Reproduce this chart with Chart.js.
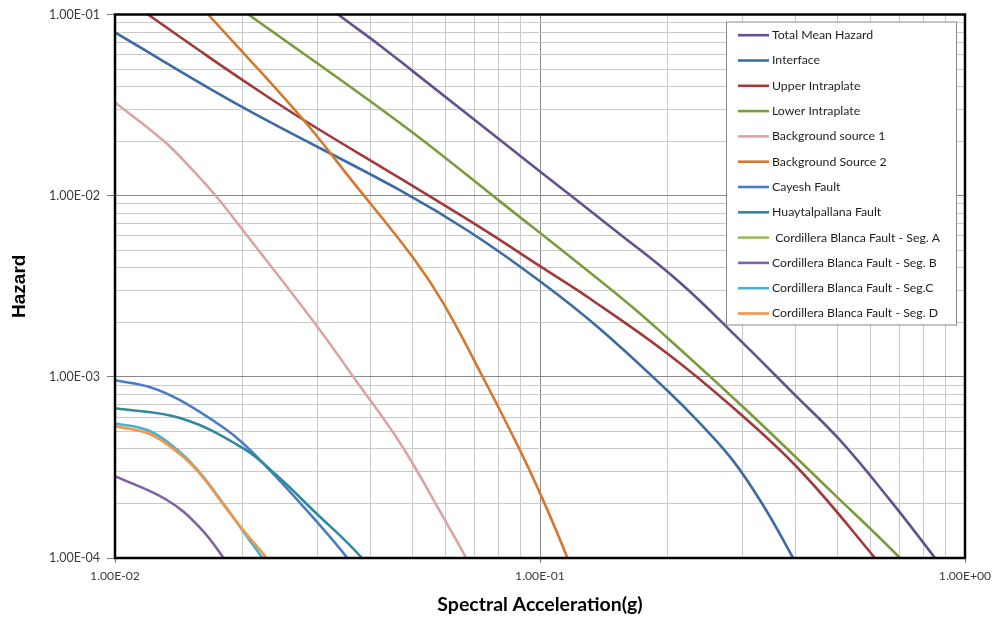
<!DOCTYPE html>
<html>
<head>
<meta charset="utf-8">
<script src="https://cdn.jsdelivr.net/npm/chart.js@4.4.1/dist/chart.umd.min.js"></script>
<style>
  html, body { margin: 0; padding: 0; background: #ffffff; }
  #c { display: block; }
</style>
</head>
<body>
<canvas id="c" width="996" height="617"></canvas>
<script>
// Seismic hazard curves: annual exceedance rate against spectral acceleration (g)

const seriesNames = [
  'Total Mean Hazard', 'Interface', 'Upper Intraplate', 'Lower Intraplate',
  'Background source 1', 'Background Source 2', 'Cayesh Fault', 'Huaytalpallana Fault',
  ' Cordillera Blanca Fault - Seg. A', 'Cordillera Blanca Fault - Seg. B',
  'Cordillera Blanca Fault - Seg.C', 'Cordillera Blanca Fault - Seg. D'
];
const seriesColors = [
  '#65508f', '#3c6ba6', '#a2393b', '#7c9b3c',
  '#dba4a2', '#d4782d', '#4a7dc5', '#2f8b9c',
  '#9bbb59', '#7f62a6', '#46b2d0', '#f5954a'
];

// Spectral acceleration (g) and hazard per source
const totalSa   = [0.025, 0.0335, 0.042, 0.05, 0.1, 0.15, 0.213, 0.296, 0.394, 0.508, 0.667, 0.85, 0.95];
const totalHaz  = [0.17, 0.1, 0.0675, 0.049, 0.0136, 0.00645, 0.00333, 0.00159, 0.000813, 0.000447, 0.000208, 0.0001, 0.00007];

const interfaceSa  = [0.01, 0.02, 0.0469, 0.0684, 0.1, 0.138, 0.199, 0.2377, 0.284, 0.3347, 0.394, 0.43];
const interfaceHaz = [0.0796, 0.0307, 0.0107, 0.0063, 0.00337, 0.00185, 0.000843, 0.000555, 0.000347, 0.000196, 0.0001, 0.0000675];

const upperSa  = [0.01, 0.01196, 0.0158, 0.0197, 0.0272, 0.0469, 0.0722, 0.1, 0.133, 0.199, 0.284, 0.409, 0.614, 0.7];
const upperHaz = [0.134, 0.1, 0.0633, 0.0444, 0.027, 0.01245, 0.0067, 0.00408, 0.00264, 0.00135, 0.000679, 0.000305, 0.0001, 0.0000675];

const lowerSa  = [0.015, 0.0206, 0.0469, 0.0805, 0.158, 0.199, 0.301, 0.489, 0.703, 0.8];
const lowerHaz = [0.17, 0.1, 0.0251, 0.0093, 0.00264, 0.00165, 0.000679, 0.000228, 0.0001, 0.00007];

const bg1Sa  = [0.01, 0.01297, 0.01526, 0.01738, 0.02, 0.03, 0.0367, 0.0469, 0.0592, 0.067, 0.072];
const bg1Haz = [0.0327, 0.0202, 0.0138, 0.0098, 0.00644, 0.00188, 0.00097, 0.00043, 0.000168, 0.0001, 0.00007];

const bg2Sa  = [0.014, 0.01656, 0.0272, 0.0361, 0.0502, 0.0592, 0.0734, 0.0897, 0.1, 0.116, 0.125];
const bg2Haz = [0.155, 0.1, 0.0277, 0.0121, 0.00457, 0.00255, 0.000995, 0.000394, 0.000228, 0.0001, 0.00006];

const cayeshSa  = [0.01, 0.0121, 0.01422, 0.01795, 0.02, 0.024, 0.0292, 0.0352, 0.038];
const cayeshHaz = [0.000957, 0.000877, 0.000743, 0.000527, 0.00043, 0.000279, 0.000168, 0.0001, 0.0000755];

const huaySa  = [0.01, 0.01422, 0.02, 0.024, 0.0292, 0.0381, 0.042];
const huayHaz = [0.000671, 0.000592, 0.000404, 0.000286, 0.000184, 0.0001, 0.00007];

const segASa  = [];
const segAHaz = [];

const segBSa  = [0.01, 0.01325, 0.0158, 0.018, 0.019];
const segBHaz = [0.000283, 0.000209, 0.000148, 0.0001, 0.00008];

const segCSa  = [0.01, 0.0121, 0.01422, 0.0158, 0.01795, 0.02, 0.0222, 0.0235];
const segCHaz = [0.000555, 0.000501, 0.000384, 0.000298, 0.000201, 0.000141, 0.0001, 0.00008];

const segDSa  = [0.01, 0.0121, 0.01422, 0.0158, 0.01795, 0.02, 0.0227, 0.024];
const segDHaz = [0.000535, 0.000482, 0.000374, 0.000294, 0.000199, 0.000143, 0.0001, 0.00008];

const xDecades = [0.01, 0.1, 1];
const xTickLabels = ['1.00E-02', '1.00E-01', '1.00E+00'];
const yDecades = [0.0001, 0.001, 0.01, 0.1];
const yTickLabels = ['1.00E-04', '1.00E-03', '1.00E-02', '1.00E-01'];

const seriesSa  = [totalSa, interfaceSa, upperSa, lowerSa, bg1Sa, bg2Sa, cayeshSa, huaySa, segASa, segBSa, segCSa, segDSa];
const seriesHaz = [totalHaz, interfaceHaz, upperHaz, lowerHaz, bg1Haz, bg2Haz, cayeshHaz, huayHaz, segAHaz, segBHaz, segCHaz, segDHaz];

const datasets = seriesNames.map((name, i) => ({
  label: name,
  data: seriesSa[i].map((x, k) => ({ x: x, y: seriesHaz[i][k] })),
  borderColor: seriesColors[i],
  backgroundColor: seriesColors[i],
  borderWidth: 2.6,
  pointRadius: 0,
  fill: false,
  tension: 0.4,
  order: seriesNames.length - i
}));

function isDecade(v) {
  const l = Math.log10(v);
  return Math.abs(l - Math.round(l)) < 1e-6;
}
function decadeLabel(v, decades, labels) {
  for (let i = 0; i < decades.length; i++) {
    if (Math.abs(Math.log10(v) - Math.log10(decades[i])) < 1e-6) return labels[i];
  }
  return '';
}
// 1..9 multiples of each decade between the first and last decade values
function logGrid(decades) {
  const out = [];
  for (let i = 0; i < decades.length - 1; i++) {
    for (let m = 1; m <= 9; m++) out.push({ value: +(decades[i] * m).toPrecision(6) });
  }
  out.push({ value: decades[decades.length - 1] });
  return out;
}

const frameAndLegend = {
  id: 'frameAndLegend',
  afterDraw(chart) {
    const { ctx, chartArea: a } = chart;
    ctx.save();
    // plot frame
    ctx.strokeStyle = '#000000';
    ctx.lineWidth = 2.5;
    ctx.strokeRect(a.left, a.top, a.right - a.left, a.bottom - a.top);

    // legend box in the upper right of the plot
    const bx = a.right - 239, by = a.top + 7, bw = 230, bh = 303;
    ctx.fillStyle = '#ffffff';
    ctx.fillRect(bx, by, bw, bh);
    ctx.strokeStyle = '#8a8a8a';
    ctx.lineWidth = 1;
    ctx.strokeRect(bx + 0.5, by + 0.5, bw, bh);
    ctx.font = '12.3px Lato';
    ctx.textBaseline = 'middle';
    ctx.textAlign = 'left';
    chart.data.datasets.forEach((ds, i) => {
      const y = by + 13.7 + i * 25.3;
      ctx.strokeStyle = ds.borderColor;
      ctx.lineWidth = 2.6;
      ctx.beginPath();
      ctx.moveTo(bx + 12, y);
      ctx.lineTo(bx + 43, y);
      ctx.stroke();
      ctx.fillStyle = '#1e1e1e';
      ctx.fillText(ds.label, bx + 46, y);
    });
    ctx.restore();
  }
};

new Chart(document.getElementById('c'), {
  type: 'line',
  data: { datasets },
  plugins: [frameAndLegend],
  options: {
    responsive: false,
    devicePixelRatio: 1,
    animation: false,
    layout: { padding: { top: 14, right: 31, left: 0, bottom: 0 } },
    plugins: { legend: { display: false }, tooltip: { enabled: false } },
    scales: {
      x: {
        type: 'logarithmic',
        position: 'bottom',
        min: xDecades[0],
        max: xDecades[xDecades.length - 1],
        afterBuildTicks: s => { s.ticks = logGrid(xDecades); },
        afterFit: s => { s.height = 59; s.paddingLeft = 0; s.paddingRight = 0; },
        ticks: {
          autoSkip: false,
          maxRotation: 0,
          padding: 6,
          color: '#3a3a3a',
          font: { family: 'Lato', size: 12.2 },
          callback: v => decadeLabel(v, xDecades, xTickLabels)
        },
        grid: {
          color: c => isDecade(c.tick.value) ? '#8a8a8a' : '#c9c9c9',
          lineWidth: 1,
          tickLength: 5,
          tickColor: c => isDecade(c.tick.value) ? '#7a7a7a' : 'rgba(0,0,0,0)'
        },
        border: { display: false },
        title: {
          display: true,
          text: 'Spectral Acceleration(g)',
          color: '#000000',
          font: { family: 'Lato', size: 19.5, weight: 'bold' },
          padding: { top: 2, bottom: 1 }
        }
      },
      y: {
        type: 'logarithmic',
        min: yDecades[0],
        max: yDecades[yDecades.length - 1],
        afterBuildTicks: s => { s.ticks = logGrid(yDecades); },
        afterFit: s => { s.width = 115; },
        ticks: {
          autoSkip: false,
          padding: 7,
          color: '#3a3a3a',
          font: { family: 'Lato', size: 12.5 },
          callback: v => decadeLabel(v, yDecades, yTickLabels)
        },
        grid: {
          color: c => isDecade(c.tick.value) ? '#8a8a8a' : '#c9c9c9',
          lineWidth: 1,
          tickLength: 8,
          tickColor: c => isDecade(c.tick.value) ? '#7a7a7a' : 'rgba(0,0,0,0)'
        },
        border: { display: false },
        title: {
          display: true,
          text: 'Hazard',
          color: '#000000',
          font: { family: 'Liberation Sans', size: 19, weight: 'bold' },
          padding: { top: 8, bottom: 0 }
        }
      }
    }
  }
});
</script>
</body>
</html>
